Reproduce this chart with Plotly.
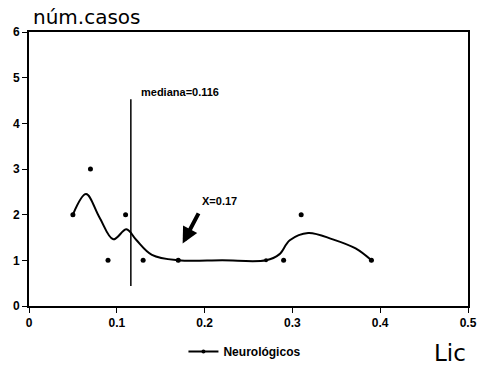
import plotly.graph_objects as go

# scattered observations
obs_x = [0.05, 0.07, 0.09, 0.11, 0.13, 0.17, 0.29, 0.31, 0.39]
obs_y = [2, 3, 1, 2, 1, 1, 1, 2, 1]

# smoothed curve (Neurológicos)
curve_x = [0.05, 0.065, 0.08, 0.096, 0.111, 0.122, 0.14, 0.17, 0.22, 0.27, 0.285, 0.297, 0.318, 0.346, 0.372, 0.39]
curve_y = [2.0, 2.45, 1.95, 1.46, 1.68, 1.45, 1.12, 1.0, 1.0, 1.0, 1.13, 1.44, 1.6, 1.46, 1.26, 1.0]
curve_mark_x = [0.05, 0.17, 0.27, 0.39]
curve_mark_y = [2, 1, 1, 1]

median_x = 0.116
median_y = [0.44, 4.53]
arrow_tip = (0.175, 1.37)
arrow_tail = (0.194, 2.06)

x_ticks = [0, 0.1, 0.2, 0.3, 0.4, 0.5]
x_ticklabels = ["0", "0.1", "0.2", "0.3", "0.4", "0.5"]
y_ticks = [0, 1, 2, 3, 4, 5, 6]
y_ticklabels = ["0", "1", "2", "3", "4", "5", "6"]

FONT = "Liberation Sans"

fig = go.Figure()
fig.add_trace(go.Scatter(x=curve_x, y=curve_y, mode="lines", line=dict(color="black", width=2, shape="spline", smoothing=1.0),
                         showlegend=False, hoverinfo="skip"))
fig.add_trace(go.Scatter(x=curve_mark_x, y=curve_mark_y, mode="markers", marker=dict(color="black", size=4),
                         showlegend=False))
fig.add_trace(go.Scatter(x=obs_x, y=obs_y, mode="markers", marker=dict(color="black", size=5),
                         showlegend=False))
fig.add_trace(go.Scatter(x=[median_x, median_x], y=median_y, mode="lines", line=dict(color="black", width=1.5),
                         showlegend=False))
fig.add_trace(go.Scatter(x=[None], y=[None], mode="lines+markers", name="<b>Neurológicos</b>",
                         line=dict(color="black", width=2), marker=dict(color="black", size=4)))

fig.add_annotation(x=median_x + 0.009, y=4.69, text="<b>mediana=0.116</b>", showarrow=False,
                   xanchor="left", yanchor="middle", font=dict(size=11, color="black", family=FONT))
fig.add_annotation(x=arrow_tip[0], y=arrow_tip[1], ax=arrow_tail[0], ay=arrow_tail[1], axref="x", ayref="y",
                   xref="x", yref="y", showarrow=True, arrowhead=2, arrowsize=0.8, arrowwidth=4, arrowcolor="black", text="")
fig.add_annotation(x=0.195, y=2.31, text="<b>X=0.17</b>", showarrow=False, xanchor="left", yanchor="middle",
                   font=dict(size=11, color="black", family=FONT))
fig.add_annotation(x=0, y=1, xref="paper", yref="paper", text="núm.casos", showarrow=False,
                   xanchor="left", yanchor="bottom", xshift=2, yshift=1,
                   font=dict(size=20, color="black", family="DejaVu Sans"))
fig.add_annotation(x=1, y=0, xref="paper", yref="paper", text="Lic", showarrow=False,
                   xanchor="right", yanchor="top", yshift=-32,
                   font=dict(size=23, color="black", family="DejaVu Sans"))

axis_common = dict(showgrid=False, zeroline=False, showline=True, linecolor="black", linewidth=2, mirror=True,
                   ticks="outside", ticklen=5, tickcolor="black", automargin=False,
                   tickfont=dict(size=12, color="black", family=FONT))
fig.update_xaxes(range=[0, 0.5], tickvals=x_ticks, ticktext=["<b>%s</b>" % t for t in x_ticklabels], **axis_common)
fig.update_yaxes(range=[0, 6], tickvals=y_ticks, ticktext=["<b>%s</b>" % t for t in y_ticklabels], **axis_common)

fig.update_layout(width=479, height=368, margin=dict(l=29, r=11, t=32, b=62, autoexpand=False),
                  plot_bgcolor="white", paper_bgcolor="white",
                  legend=dict(orientation="h", x=0.383, y=0.045, xref="container", yref="container",
                              xanchor="left", yanchor="middle",
                              font=dict(size=12, color="black", family=FONT), bgcolor="rgba(0,0,0,0)",
                              itemwidth=30))
fig.write_html("out.html")
